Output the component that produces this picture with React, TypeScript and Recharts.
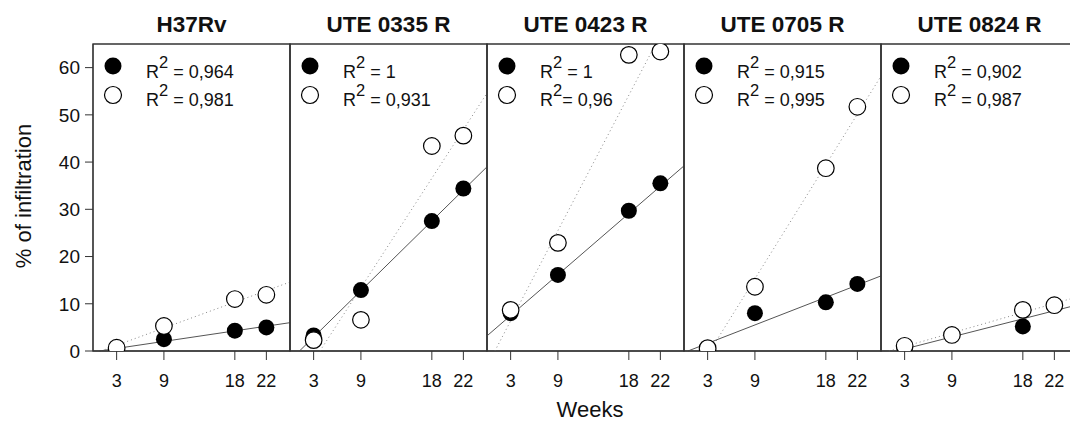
import { ScatterChart, Scatter, XAxis, YAxis, ReferenceLine, ReferenceArea } from "recharts";

const weeks = [3, 9, 18, 22];
const yTicks = [0, 10, 20, 30, 40, 50, 60];
const strains = ["H37Rv", "UTE 0335 R", "UTE 0423 R", "UTE 0705 R", "UTE 0824 R"];

// % of infiltration, filled circles
const filledValues = [
  [0.2, 2.5, 4.3, 5.0],
  [3.3, 12.9, 27.5, 34.4],
  [8.0, 16.1, 29.7, 35.5],
  [0.3, 8.0, 10.3, 14.2],
  [0.5, 3.4, 5.2, 9.7],
];

// % of infiltration, open circles
const openValues = [
  [0.7, 5.3, 11.0, 11.9],
  [2.3, 6.6, 43.4, 45.6],
  [8.7, 22.9, 62.7, 63.4],
  [0.6, 13.6, 38.7, 51.7],
  [1.1, 3.4, 8.7, 9.7],
];

// regression lines: [week0, value0, week1, value1]
const solidFits = [
  [0.8, 0, 25, 6.0],
  [1.2, 0, 25, 39.0],
  [0, 3.2, 25, 39.2],
  [0.5, 0, 25, 15.9],
  [2.0, 0, 25, 9.8],
];
const dottedFits = [
  [1.0, 0, 25, 14.6],
  [3.8, 0, 25, 54.6],
  [1.0, 0, 21.4, 65],
  [3.3, 0, 25, 58.2],
  [1.0, 0, 25, 11.5],
];

const r2Filled = [" = 0,964", " = 1", " = 1", " = 0,915", " = 0,902"];
const r2Open = [" = 0,981", " = 0,931", "= 0,96", " = 0,995", " = 0,987"];

const PANEL_W = 197;
const FIRST_LEFT = 93;
const FONT = "'Liberation Sans', Arial, sans-serif";

const FilledDot = (p: any) => <circle cx={p.cx} cy={p.cy} r={8} fill="#000" />;
const OpenDot = (p: any) => (
  <circle cx={p.cx} cy={p.cy} r={8.3} fill="#fff" stroke="#000" strokeWidth={1.2} />
);

function Panel({ index }: { index: number }) {
  const left = FIRST_LEFT + index * PANEL_W;
  const first = index === 0;
  const filled = weeks.map((w, i) => ({ week: w, value: filledValues[index][i] }));
  const open = weeks.map((w, i) => ({ week: w, value: openValues[index][i] }));
  const s = solidFits[index];
  const d = dottedFits[index];

  return (
    <div style={{ position: "absolute", left: left - 60, top: 0 }}>
      <ScatterChart
        width={60 + PANEL_W + 20}
        height={424}
        margin={{ top: 44, right: 20, bottom: 0, left: first ? 0 : 60 }}
      >
        <XAxis
          type="number"
          dataKey="week"
          domain={[0, 25]}
          ticks={weeks}
          height={73}
          tickSize={9}
          tickMargin={14}
          stroke="#333"
          tick={{ fill: "#111", fontSize: 18 }}
          allowDataOverflow
        />
        <YAxis
          type="number"
          dataKey="value"
          domain={[0, 65]}
          ticks={yTicks}
          width={60}
          mirror={!first}
          tick={first ? { fill: "#111", fontSize: 19 } : false}
          tickSize={8}
          tickMargin={5}
          stroke="#333"
          allowDataOverflow
        />
        <ReferenceArea x1={0} x2={25} y1={0} y2={65} fill="none" stroke="#333" strokeWidth={1.3} />
        <ReferenceLine
          segment={[{ x: d[0], y: d[1] }, { x: d[2], y: d[3] }]}
          stroke="#888"
          strokeDasharray="1 3"
        />
        <ReferenceLine
          segment={[{ x: s[0], y: s[1] }, { x: s[2], y: s[3] }]}
          stroke="#555"
          strokeWidth={1}
        />
        <Scatter data={filled} isAnimationActive={false} shape={FilledDot} />
        <Scatter data={open} isAnimationActive={false} shape={OpenDot} />
      </ScatterChart>
    </div>
  );
}

export default function App() {
  return (
    <div
      style={{
        position: "absolute",
        left: 0,
        top: 0,
        width: 1070,
        height: 424,
        overflow: "hidden",
        background: "#fff",
        fontFamily: FONT,
      }}
    >
      {strains.map((_, i) => (
        <Panel key={i} index={i} />
      ))}

      <svg
        width={1070}
        height={424}
        style={{ position: "absolute", left: 0, top: 0, pointerEvents: "none" }}
        fontFamily={FONT}
      >
        {strains.map((name, i) => {
          const left = FIRST_LEFT + i * PANEL_W;
          return (
            <g key={name}>
              <text x={left + PANEL_W / 2} y={32} textAnchor="middle" fontSize={22.5} fontWeight="bold" fill="#111">
                {name}
              </text>
              <circle cx={left + 20} cy={66} r={8.5} fill="#000" />
              <circle cx={left + 20} cy={95} r={8.5} fill="#fff" stroke="#000" strokeWidth={1.2} />
              <text x={left + 53} y={78} fontSize={18} fill="#111">
                R
                <tspan dy={-10} fontSize={16.5}>2</tspan>
                <tspan dy={10}>{r2Filled[i]}</tspan>
              </text>
              <text x={left + 53} y={106} fontSize={18} fill="#111">
                R
                <tspan dy={-10} fontSize={16.5}>2</tspan>
                <tspan dy={10}>{r2Open[i]}</tspan>
              </text>
            </g>
          );
        })}
        <text x={590} y={417} textAnchor="middle" fontSize={22} fill="#111">
          Weeks
        </text>
        <text
          x={0}
          y={0}
          transform="translate(31 196) rotate(-90)"
          textAnchor="middle"
          fontSize={22}
          fill="#111"
        >
          % of infiltration
        </text>
      </svg>
    </div>
  );
}
